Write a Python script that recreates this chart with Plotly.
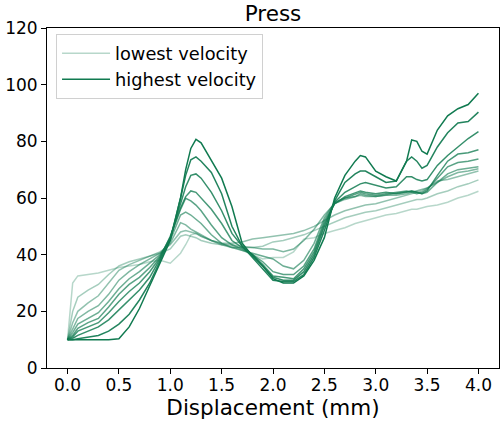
import plotly.graph_objects as go

# shared displacement grid (mm)
displacement = [0, 0.05, 0.1, 0.2, 0.3, 0.4, 0.5, 0.6, 0.7, 0.8, 0.9, 1.0,
                1.1, 1.15, 1.2, 1.25, 1.3, 1.4, 1.5, 1.6, 1.7, 1.8, 1.9, 2.0,
                2.1, 2.2, 2.3, 2.4, 2.5, 2.6, 2.7, 2.8, 2.85, 2.9, 3.0, 3.1,
                3.2, 3.3, 3.35, 3.4, 3.45, 3.5, 3.6, 3.7, 3.8, 3.9, 4.0]

# force curves, lowest velocity (v1) to highest velocity (v10)
v1 = [10, 30, 32.5, 33, 33.5, 34.5, 35.5, 36, 36.5, 37.5, 38, 37,
      40.5, 43.5, 47, 47.5, 46.5, 45, 44, 43, 41.5, 40, 38.5, 39,
      39, 41, 45.5, 46, 47.5, 48.5, 49.5, 51, 51.5, 52, 53, 54,
      54.5, 55.5, 56, 56, 56.5, 57, 57.5, 58.5, 60, 61, 62.4]
v2 = [10, 20, 25, 27.5, 29.5, 33, 36, 37.5, 38.5, 39.5, 40.5, 42,
      46.5, 47, 46.5, 46, 45, 44, 43.5, 43.5, 43, 42.5, 43, 44.5,
      45, 46, 47, 48.5, 50, 51.5, 53, 54, 54.5, 55, 55.5, 56.5,
      57.5, 58.5, 59, 59.5, 59.5, 60, 61.5, 62.5, 64, 65, 66.4]
v3 = [10, 16, 20, 23, 25.5, 30, 34.5, 36.5, 38, 39.5, 41, 43.5,
      48, 48.5, 48, 47.5, 46.5, 45, 44, 44, 44.5, 45.5, 46, 46.5,
      47, 47.5, 48.5, 50, 52, 54, 55.5, 56.5, 57, 57.5, 58, 59,
      60, 61, 61.5, 62, 62.5, 63.5, 66, 66.5, 67.5, 68.5, 69.5]
v4 = [10, 14, 17.5, 20, 22, 26, 31, 34, 36.5, 38.5, 40.5, 44,
      51.3, 50.5, 49, 48, 47, 45, 43.5, 42.5, 42.5, 42.5, 42, 42,
      41, 42, 45, 49, 54, 58, 59.5, 60.5, 61, 60.5, 60.5, 61,
      61, 61.5, 62, 62.5, 63, 63.5, 65.5, 67.5, 69, 69.5, 70.3]
v5 = [10, 12.5, 15.5, 17.5, 19.5, 23.5, 28, 31.5, 34, 37, 40, 45,
      54, 55, 54, 52.5, 51, 47, 44, 42.5, 41.5, 40.5, 39.5, 38.5,
      36, 35, 38, 44, 53, 58.5, 60, 60.5, 61.5, 61, 60.5, 61,
      61.5, 62, 62.5, 62, 61.5, 62, 65.5, 68.5, 70, 70.5, 71]
v6 = [10, 11.5, 14, 16, 17.5, 21.5, 26, 29.5, 32, 35.5, 39.5, 46,
      56, 59.9, 59, 57.5, 55.5, 50.5, 46, 43.5, 42, 40, 37.5, 34,
      33, 33, 36, 42, 52, 58, 60, 61.5, 62, 61.5, 61, 61.5,
      62, 62.5, 62, 61.5, 62, 63, 67, 71, 72.5, 73, 73.8]
v7 = [10, 11, 13, 14.5, 16, 19.5, 23.5, 27, 30, 34, 39, 46.5,
      56.5, 60.5, 62.5, 62, 60, 56, 51, 45, 42.5, 40, 36.5, 32.5,
      32, 31.5, 35, 41, 51, 58, 60.5, 62, 62.5, 62, 61.5, 62,
      61.5, 62, 62.5, 62, 61.5, 62.5, 68, 73, 75.5, 76, 77]
v8 = [10, 10.5, 11.5, 13, 14.5, 17, 20.5, 24, 27.5, 32, 38.5, 46,
      58, 64, 68, 68.5, 67, 62, 55.5, 47.5, 43, 40, 36, 32,
      31, 31, 34, 40, 50, 58.5, 62, 64, 65, 65.5, 64.5, 63.5,
      64, 67.5, 67.5, 66.5, 66, 66.5, 71.5, 75, 78, 81, 83.4]
v9 = [10, 10, 10.3, 10.8, 11.5, 13, 15.5, 19, 24, 30, 37.5, 45.5,
      60, 68, 73.5, 74.5, 73, 69, 61.5, 50, 43, 39, 35, 31,
      30.5, 30.5, 33, 39, 48.5, 59, 65.5, 68.5, 69.5, 69.5, 67.5, 65.5,
      66, 73, 74.5, 73, 70.5, 71.5, 78, 83, 86.5, 87, 90.3]
v10 = [10, 10, 10, 10, 10, 10, 10.3, 14.5, 21, 29, 37, 45,
       60, 70, 77.5, 80.7, 79.5, 73.5, 67, 57, 44, 39.5, 36, 31.5,
       30, 30, 32.5, 38, 46, 60, 68, 73, 75, 74.5, 69.5, 67.5,
       66, 73, 80.5, 80, 76.5, 75.5, 84, 89, 91.5, 93, 97]

series = [v1, v2, v3, v4, v5, v6, v7, v8, v9, v10]
legend_names = {0: "lowest velocity", 9: "highest velocity"}

x_ticks = [0.0, 0.5, 1.0, 1.5, 2.0, 2.5, 3.0, 3.5, 4.0]
x_tick_text = ["0.0", "0.5", "1.0", "1.5", "2.0", "2.5", "3.0", "3.5", "4.0"]
y_ticks = [0, 20, 40, 60, 80, 100, 120]

fig = go.Figure()
n = len(series)
for i, ys in enumerate(series):
    alpha = 0.3 + 0.7 * i / (n - 1)
    fig.add_trace(go.Scatter(
        x=displacement, y=ys, mode="lines",
        line=dict(color=f"rgba(16,122,80,{alpha:.3f})", width=1.5),
        name=legend_names.get(i, f"v{i+1}"),
        showlegend=i in legend_names,
    ))

font_family = "DejaVu Sans"
fig.update_layout(
    width=501, height=421,
    margin=dict(l=47, r=2, t=28, b=53, autoexpand=False),
    paper_bgcolor="white", plot_bgcolor="white",
    font=dict(family=font_family, size=17, color="black"),
    title=dict(text="Press", x=0.545, xanchor="center", xref="container",
               y=0.986, yref="container", yanchor="top",
               font=dict(size=21.5, color="black")),
    legend=dict(x=0.02, y=0.982, xanchor="left", yanchor="top",
                bgcolor="rgba(255,255,255,0.8)", bordercolor="#d0d0d0",
                borderwidth=1, font=dict(size=17.8), itemwidth=48,
                tracegroupgap=0),
)
fig.update_xaxes(
    range=[-0.2, 4.2], tickvals=x_ticks, ticktext=x_tick_text,
    showline=True, linecolor="black", linewidth=1, mirror=True,
    ticks="outside", ticklen=5, tickcolor="black", showgrid=False,
    zeroline=False, automargin=False, ticklabelstandoff=-3,
    title=dict(text="Displacement (mm)", font=dict(size=21.5), standoff=0),
)
fig.update_yaxes(
    range=[0, 120], tickvals=y_ticks,
    showline=True, linecolor="black", linewidth=1, mirror=True,
    ticks="outside", ticklen=5, tickcolor="black", showgrid=False,
    zeroline=False, automargin=False,
)

fig.write_html("out.html", config={"displayModeBar": False},
               post_script="document.body.style.margin='0';")
